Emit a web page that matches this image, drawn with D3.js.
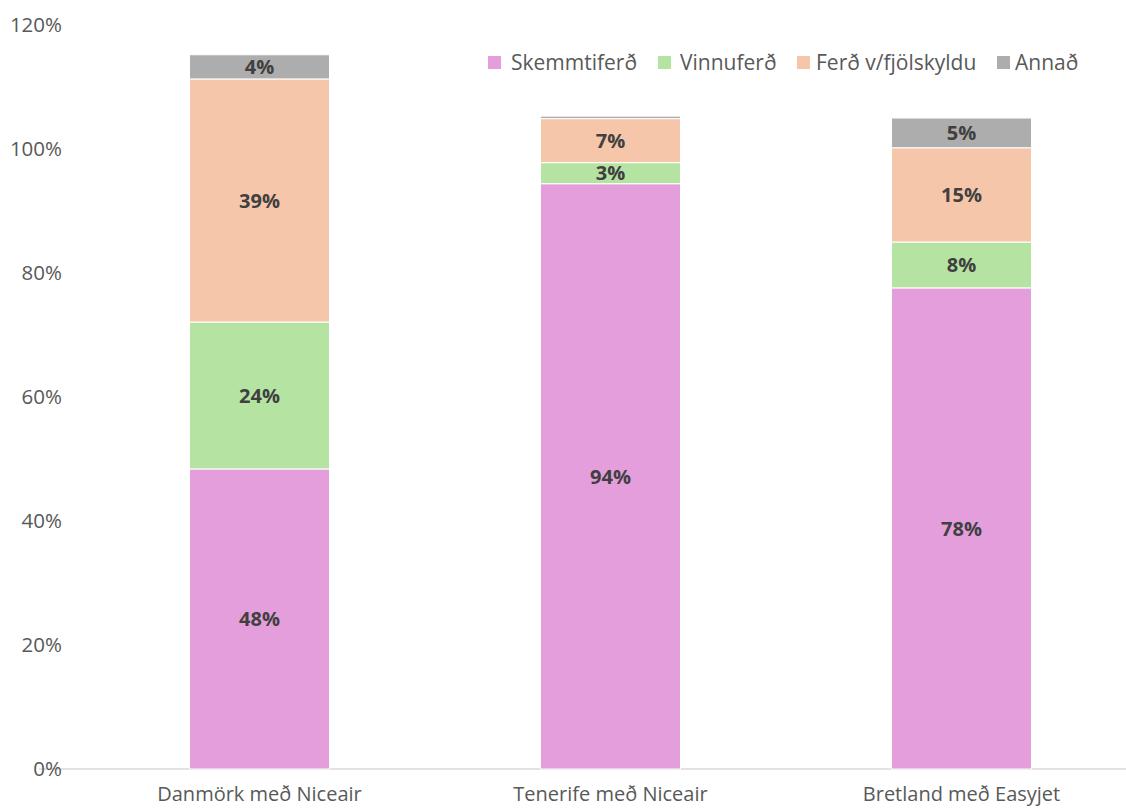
<!DOCTYPE html>
<html><head><meta charset="utf-8">
<script src="https://cdn.jsdelivr.net/npm/d3@7"></script>
<style>body{margin:0;background:#fff;} svg{display:block;}</style>
</head><body><svg id="c" width="1126" height="808"></svg>
<script>
const categories = ["Danmörk með Niceair", "Tenerife með Niceair", "Bretland með Easyjet"];
const seriesNames = ["Skemmtiferð", "Vinnuferð", "Ferð v/fjölskyldu", "Annað"];
const skemmtiferd = [48.4, 94.4, 77.6];
const vinnuferd = [23.7, 3.4, 7.4];
const fjolskyldu = [39.2, 7.1, 15.2];
const annad = [3.9, 0.4, 4.8];
const labels = [["48%","24%","39%","4%"],["94%","3%","7%",""],["78%","8%","15%","5%"]];
const yTicks = [0, 20, 40, 60, 80, 100, 120];
const colors = ["#e39edb", "#b5e4a2", "#f6c6ab", "#adadad"];

const svg = d3.select("#c");
const x = d3.scaleBand().domain(categories).range([84, 1137]).paddingInner(0.6).paddingOuter(0.3);
const y = d3.scaleLinear().domain([0, 120]).range([769, 25]);

const values = [skemmtiferd, vinnuferd, fjolskyldu, annad];
const rows = categories.map((c, i) => {
  const r = {cat: c};
  seriesNames.forEach((s, j) => r[s] = values[j][i]);
  return r;
});
const stack = d3.stack().keys(seriesNames)(rows);

// axis line
svg.append("line").attr("x1", 39).attr("x2", 1126).attr("y1", y(0)).attr("y2", y(0))
  .attr("stroke", "#d9d9d9").attr("stroke-width", 1.3);

// y tick labels
svg.append("g").selectAll("text").data(yTicks).join("text")
  .attr("x", 62).attr("y", d => y(d)).attr("dy", "0.35em").attr("text-anchor", "end")
  .attr("font-family", "Open Sans, sans-serif").attr("font-size", 20.5).attr("fill", "#595959")
  .text(d => d + "%");

// bars
const bw = 140;
stack.forEach((layer, j) => {
  svg.append("g").selectAll("rect").data(layer).join("rect")
    .attr("x", d => x(d.data.cat) + x.bandwidth()/2 - bw/2)
    .attr("width", bw)
    .attr("y", d => y(d[1]))
    .attr("height", d => y(d[0]) - y(d[1]))
    .attr("fill", colors[j])
    .attr("stroke", "#fff").attr("stroke-width", 1);
  svg.append("g").selectAll("text").data(layer).join("text")
    .attr("x", d => x(d.data.cat) + x.bandwidth()/2)
    .attr("y", d => (y(d[0]) + y(d[1])) / 2)
    .attr("dy", "0.36em").attr("text-anchor", "middle")
    .attr("font-family", "Open Sans, sans-serif").attr("font-weight", "bold")
    .attr("font-size", 20).attr("fill", "#404040")
    .text((d, i) => labels[i][j]);
});

// category labels
svg.append("g").selectAll("text").data(categories).join("text")
  .attr("x", d => x(d) + x.bandwidth()/2).attr("y", 801)
  .attr("text-anchor", "middle")
  .attr("font-family", "Open Sans, sans-serif")
  .attr("font-size", 20).attr("fill", "#595959")
  .text(d => d);

// legend
const legendSq = [488, 658, 797, 997];
const legendTx = [511, 680, 816, 1015];
const lg = svg.append("g");
seriesNames.forEach((s, j) => {
  lg.append("rect").attr("x", legendSq[j]).attr("y", 56).attr("width", 13).attr("height", 13).attr("fill", colors[j]);
  lg.append("text").attr("x", legendTx[j]).attr("y", 62.5).attr("dy", "0.35em")
    .attr("font-family", "Open Sans, sans-serif").attr("font-size", 21).attr("fill", "#595959").text(s);
});
</script></body></html>
